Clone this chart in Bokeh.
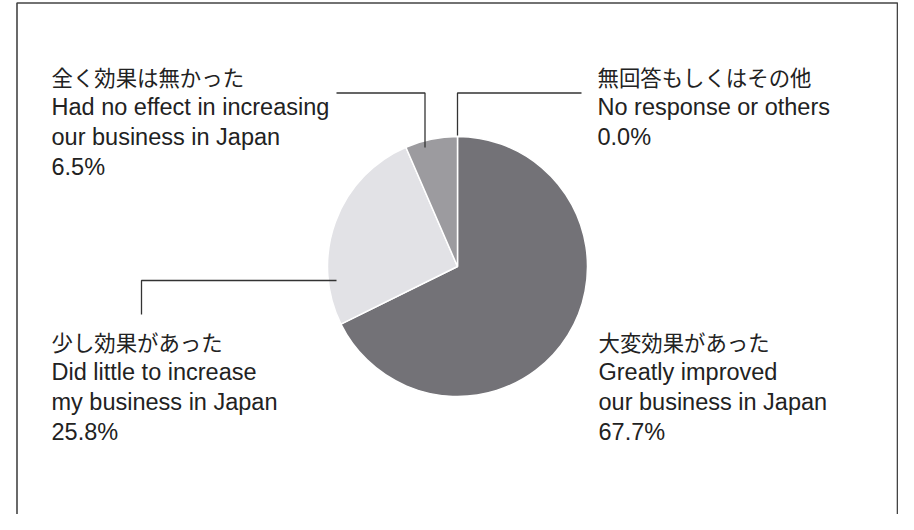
import math
from bokeh.plotting import figure
from bokeh.models import Range1d
from bokeh.embed import file_html
from bokeh.resources import INLINE
from bokeh.core.properties import value

# ---- data ----
categories_jp = ["大変効果があった", "少し効果があった", "全く効果は無かった", "無回答もしくはその他"]
categories_en1 = ["Greatly improved", "Did little to increase", "Had no effect in increasing", "No response or others"]
categories_en2 = ["our business in Japan", "my business in Japan", "our business in Japan", ""]
shares = [67.7, 25.8, 6.5, 0.0]
colors = ["#737277", "#e2e2e6", "#9c9b9f", "#c8c8cb"]

# ---- layout (image pixel coordinates, y downward) ----
label_x = [598, 51, 51, 597]
label_y0 = [341.0, 341.0, 76.0, 76.0]
line_gap = 30.0
leaders = [
    None,
    [(336, 280), (141, 280), (141, 314)],
    [(336, 92.5), (424.5, 92.5), (424.5, 147)],
    [(457, 135), (457, 92.5), (581, 92.5)],
]
cx, cy, R = 457, 266, 130

W, H = 898, 514
p = figure(width=W, height=H, x_range=Range1d(0, W), y_range=Range1d(-H, 0),
           output_backend="svg", toolbar_location=None, min_border=0)
p.axis.visible = False
p.grid.visible = False
p.outline_line_color = None
p.background_fill_color = "white"
p.border_fill_color = "white"

# frame
p.line([16.5, 16.5, 897, 897], [-540, -2.5, -2.5, -540], line_color="#444444", line_width=1.6)

# pie
total = sum(shares)
cum = 0.0
for s, c in zip(shares, colors):
    a0 = math.pi / 2 - 2 * math.pi * cum / total
    cum += s
    a1 = math.pi / 2 - 2 * math.pi * cum / total
    if s > 0:
        p.wedge(x=[cx], y=[-cy], radius=R, start_angle=a0, end_angle=a1, direction="clock",
                fill_color=c, line_color="white", line_width=1.5)

# leader lines
for pts in leaders:
    if pts:
        p.line([q[0] for q in pts], [-q[1] for q in pts], line_color="#333333", line_width=1.3)

# labels
jp_font = value("Noto Sans CJK JP")
en_font = value("Liberation Sans")
for i in range(len(shares)):
    lines = [(categories_jp[i], jp_font, "21.4px"),
             (categories_en1[i], en_font, "23.5px")]
    if categories_en2[i]:
        lines.append((categories_en2[i], en_font, "23.5px"))
    lines.append((f"{shares[i]:.1f}%", en_font, "23.5px"))
    for k, (t, f, sz) in enumerate(lines):
        p.text(x=[label_x[i]], y=[-(label_y0[i] + k * line_gap)], text=[t], text_font=f,
               text_font_size=sz, text_color="#222222", text_baseline="alphabetic", text_align="left")

open("out.html", "w").write(file_html(p, INLINE))
